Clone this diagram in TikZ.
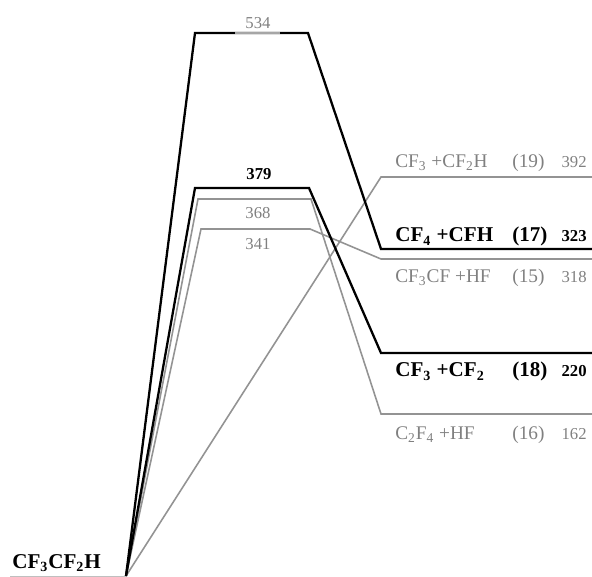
\documentclass[tikz,border=0pt]{standalone}
\usepackage{fontspec}
\setmainfont{Liberation Serif}
\usepackage{tikz}
\usetikzlibrary{calc}

\begin{document}
\begin{tikzpicture}[
    x=0.02cm, y=-0.02cm,
    % Path styles
    pathBold/.style={line width=1.3pt, draw=black, line join=miter},
    pathGray/.style={line width=0.9pt, draw=gray!85, line join=miter},
    % Label styles
    lblBold/.style={inner sep=0pt, text=black, font=\fontsize{12}{12}\selectfont\bfseries},
    numBold/.style={inner sep=0pt, text=black, font=\fontsize{9.5}{10}\selectfont\bfseries},
    numGray/.style={inner sep=0pt, text=gray, font=\fontsize{9.5}{10}\selectfont},
    prodlbl/.style={inner sep=0pt}
]
    \useasboundingbox (0,0) rectangle (592,577);

    % =========================================================================
    % 1. REACTANT
    % =========================================================================
    \coordinate (base) at (126,576);
    \coordinate (foot) at (10,576);
    \node[lblBold, anchor=base west] (reac) at (12,568) {CF\textsubscript{3}CF\textsubscript{2}H};
    \draw[gray!50, line width=0.5pt] (foot) -- (base);

    % =========================================================================
    % 2. CORNERS OF THE PATHWAYS
    % =========================================================================
    % --- TS 534 -> channel 17 ---
    \coordinate (a1) at (195,33);   \coordinate (a2) at (308,33);
    \coordinate (a3) at (381,249);  \coordinate (a4) at (592,249);
    \coordinate (am1) at (235,33);  \coordinate (am2) at (280,33);
    % --- TS 379 -> channel 18 ---
    \coordinate (b1) at (195,188);  \coordinate (b2) at (309,188);
    \coordinate (b3) at (381,353);  \coordinate (b4) at (592,353);
    % --- TS 368 -> channel 16 ---
    \coordinate (c1) at (198,199);  \coordinate (c2) at (311,199);
    \coordinate (c3) at (381,414);  \coordinate (c4) at (592,414);
    % --- TS 341 -> channel 15 ---
    \coordinate (d1) at (201,229);  \coordinate (d2) at (310,229);
    \coordinate (d3) at (381,259);  \coordinate (d4) at (592,259);
    % --- no barrier -> channel 19 ---
    \coordinate (e3) at (381,177);  \coordinate (e4) at (592,177);

    % --- Gray pathways first, black ones on top ---
    \draw[pathGray] (base) -- (e3) -- (e4);
    \draw[pathGray] (base) -- (d1) -- (d2) -- (d3) -- (d4);
    \draw[pathGray] (base) -- (c1) -- (c2) -- (c3) -- (c4);
    \draw[pathBold] (base) -- (b1) -- (b2) -- (b3) -- (b4);
    \draw[pathBold] (base) -- (a1) -- (a2) -- (a3) -- (a4);
    \draw[pathBold, draw=gray!70] (am1) -- (am2);

    % --- Barrier heights ---
    \node[numGray] (h534) at (258,23) {534};
    \node[numBold] (h379) at (259,174) {379};
    \node[numGray] (h368) at (258,213) {368};
    \node[numGray] (h341) at (258,244) {341};

    % =========================================================================
    % 3. PRODUCT CHANNELS
    % =========================================================================
    \foreach \id/\lab/\val/\yb/\col/\wt/\fs in {
        19/{CF\textsubscript{3} +CF\textsubscript{2}H}/392/168/gray/\mdseries/11,
        17/{CF\textsubscript{4} +CFH}/323/242/black/\bfseries/12,
        15/{CF\textsubscript{3}CF +HF}/318/283/gray/\mdseries/11,
        18/{CF\textsubscript{3} +CF\textsubscript{2}}/220/377/black/\bfseries/12,
        16/{C\textsubscript{2}F\textsubscript{4} +HF}/162/440/gray/\mdseries/11} {
        \node[prodlbl, text=\col, font=\fontsize{\fs}{\fs}\selectfont\wt, anchor=base west] (name\id) at (395,\yb) {\lab};
        \node[prodlbl, text=\col, font=\fontsize{\fs}{\fs}\selectfont\wt, anchor=base west] (chan\id) at (512,\yb) {(\id)};
        \node[prodlbl, text=\col, font=\fontsize{9.5}{10}\selectfont\wt, anchor=base east] (val\id) at (587,\yb) {\val};
    }

\end{tikzpicture}
\end{document}
